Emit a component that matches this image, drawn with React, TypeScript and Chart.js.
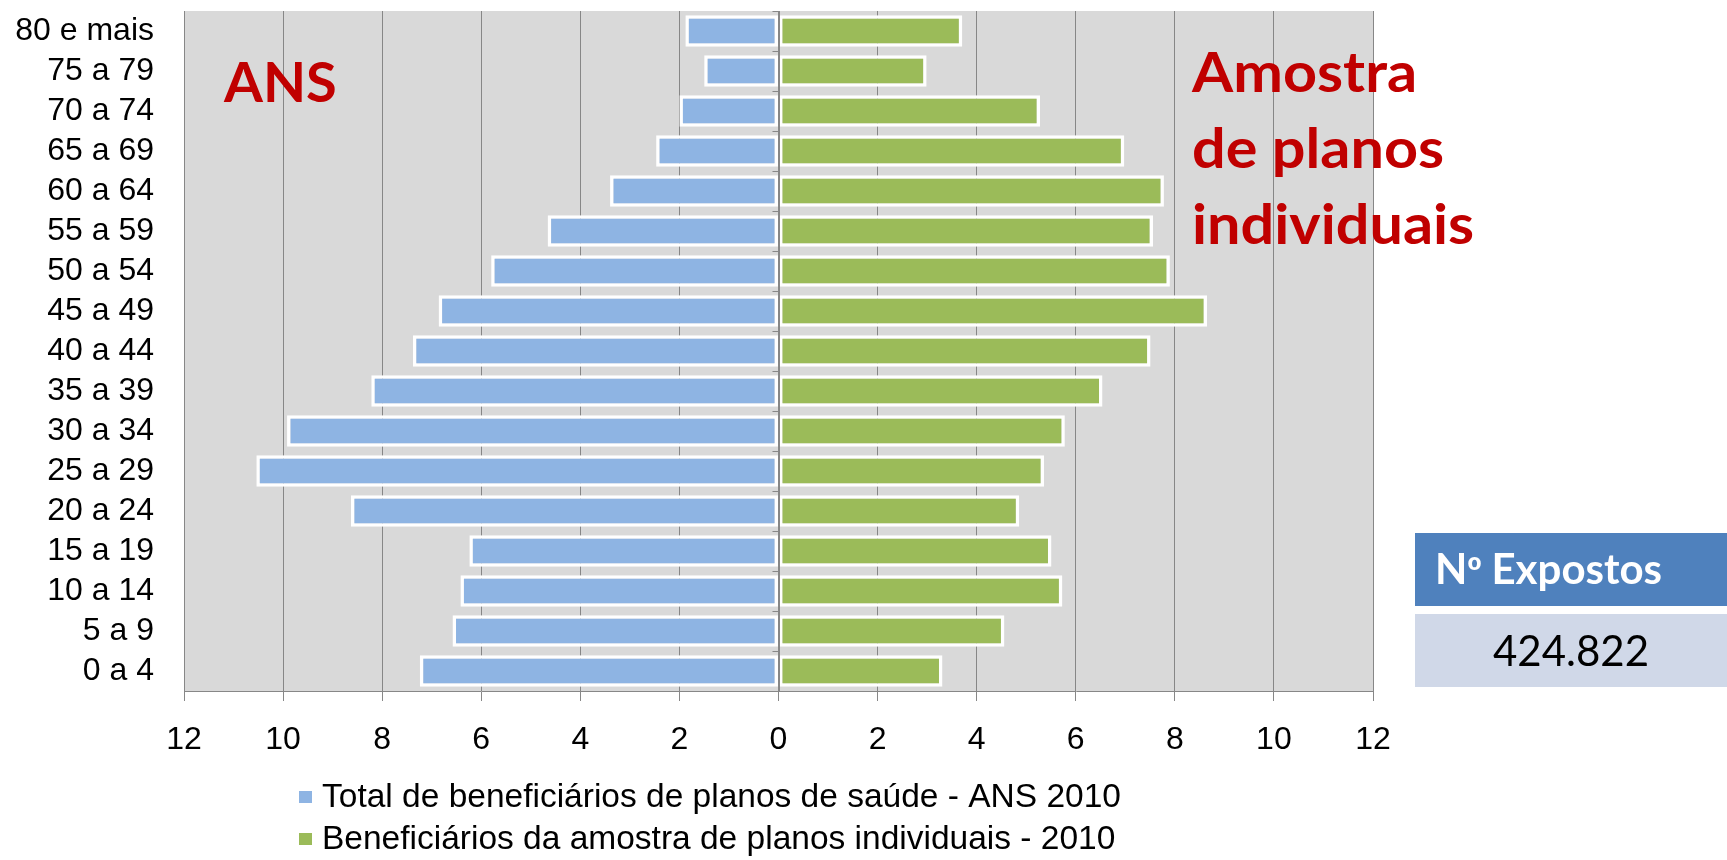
import React, { useEffect, useRef } from "react";
import { Chart, registerables } from "chart.js";

Chart.register(...registerables);

// ---- Data (percent of beneficiaries by age group), top row first ----
const ageGroups = [
  "80 e mais", "75 a 79", "70 a 74", "65 a 69", "60 a 64", "55 a 59",
  "50 a 54", "45 a 49", "40 a 44", "35 a 39", "30 a 34", "25 a 29",
  "20 a 24", "15 a 19", "10 a 14", "5 a 9", "0 a 4",
];
// ANS 2010 (drawn to the left, stored negative)
const ansShare = [
  -1.88, -1.5, -2.0, -2.47, -3.4, -4.66, -5.8, -6.86, -7.38, -8.22,
  -9.92, -10.54, -8.63, -6.24, -6.42, -6.58, -7.24,
];
// Sample of individual plans 2010 (drawn to the right)
const sampleShare = [
  3.71, 2.99, 5.28, 6.98, 7.78, 7.56, 7.9, 8.65, 7.51, 6.54,
  5.78, 5.36, 4.86, 5.51, 5.73, 4.56, 3.31,
];
const seriesLabels = [
  "Total de beneficiários de planos de saúde - ANS 2010",
  "Beneficiários da amostra de planos individuais - 2010",
];
const seriesColors = ["#8eb4e3", "#9bbb59"];
const axisMin = -12;
const axisMax = 12;
const axisStep = 2;
const exposedTitlePrefix = "N";
const exposedTitleOrdinal = "º";
const exposedTitleRest = " Expostos";
const exposedValue = "424.822";

const GRID = "#878787";
const FONT = "'Liberation Sans', Arial, sans-serif";

const plotBgPlugin = {
  id: "plotBg",
  beforeDraw(chart: any) {
    const { ctx, chartArea } = chart;
    ctx.save();
    ctx.fillStyle = "#d9d9d9";
    ctx.fillRect(chartArea.left, chartArea.top, chartArea.right - chartArea.left, chartArea.bottom - chartArea.top);
    ctx.restore();
  },
};

const zeroAxisPlugin = {
  id: "zeroAxis",
  afterDatasetsDraw(chart: any) {
    const { ctx, chartArea, scales } = chart;
    const x0 = Math.round(scales.x.getPixelForValue(0)) + 0.5;
    ctx.save();
    ctx.strokeStyle = GRID;
    ctx.lineWidth = 1;
    ctx.beginPath();
    ctx.moveTo(x0, chartArea.top);
    ctx.lineTo(x0, chartArea.bottom);
    const n = chart.data.labels.length;
    const h = (chartArea.bottom - chartArea.top) / n;
    for (let i = 0; i <= n; i++) {
      const y = Math.round(chartArea.top + i * h) + 0.5;
      ctx.moveTo(x0 - 7, y);
      ctx.lineTo(x0, y);
    }
    ctx.stroke();
    ctx.restore();
  },
};

const customLegendPlugin = {
  id: "customLegend",
  afterDraw(chart: any) {
    const { ctx } = chart;
    ctx.save();
    ctx.font = `33.5px ${FONT}`;
    ctx.textBaseline = "alphabetic";
    chart.data.datasets.forEach((ds: any, i: number) => {
      const baseline = 807 + i * 42;
      ctx.fillStyle = ds.backgroundColor;
      ctx.fillRect(299, baseline - 16, 13, 12);
      ctx.fillStyle = "#000000";
      ctx.fillText(ds.label, 322, baseline);
    });
    ctx.restore();
  },
};

export default function App() {
  const canvasRef = useRef<HTMLCanvasElement | null>(null);

  useEffect(() => {
    if (!canvasRef.current) return;
    const chart = new Chart(canvasRef.current, {
      type: "bar",
      data: {
        labels: ageGroups,
        datasets: [
          {
            label: seriesLabels[0],
            data: ansShare,
            backgroundColor: seriesColors[0],
            borderColor: "#ffffff",
            borderWidth: 3.5,
            borderSkipped: false,
            categoryPercentage: 0.88,
            barPercentage: 0.9,
          },
          {
            label: seriesLabels[1],
            data: sampleShare,
            backgroundColor: seriesColors[1],
            borderColor: "#ffffff",
            borderWidth: 3.5,
            borderSkipped: false,
            categoryPercentage: 0.88,
            barPercentage: 0.9,
          },
        ],
      },
      options: {
        indexAxis: "y",
        responsive: false,
        animation: false,
        devicePixelRatio: 1,
        layout: { padding: { left: 0, right: 354, top: 11, bottom: 0 } },
        plugins: { legend: { display: false }, tooltip: { enabled: false } },
        scales: {
          x: {
            stacked: true,
            min: axisMin,
            max: axisMax,
            ticks: {
              stepSize: axisStep,
              color: "#000000",
              font: { family: FONT, size: 32 },
              padding: 20,
              callback: (v: any) => String(Math.abs(Number(v))),
            },
            grid: { color: GRID, lineWidth: 1, drawTicks: true, tickLength: 10 },
            border: { display: true, color: GRID, width: 1 },
            afterFit: (s: any) => {
              s.height = 169;
            },
          },
          y: {
            stacked: true,
            ticks: {
              color: "#000000",
              font: { family: FONT, size: 32, lineHeight: 0.6 },
              padding: 0,
              autoSkip: false,
            },
            grid: {
              display: true,
              drawOnChartArea: false,
              drawTicks: true,
              tickLength: 30,
              color: "rgba(0,0,0,0)",
            },
            border: { display: true, color: GRID, width: 1 },
            afterFit: (s: any) => {
              s.width = 184;
            },
          },
        },
      },
      plugins: [plotBgPlugin, zeroAxisPlugin, customLegendPlugin],
    } as any);
    return () => chart.destroy();
  }, []);

  const red = "#c00000";
  const redText: React.CSSProperties = {
    position: "absolute",
    color: red,
    fontFamily: "Lato, 'Open Sans', sans-serif",
    fontWeight: 700,
    fontSize: 56,
    whiteSpace: "nowrap",
    transformOrigin: "0 0",
  };

  return (
    <div style={{ position: "absolute", left: 0, top: 0, width: 1727, height: 860, background: "#ffffff", overflow: "hidden" }}>
      <canvas ref={canvasRef} width={1727} height={860} style={{ position: "absolute", left: 0, top: 0, width: 1727, height: 860 }} />
      <div style={{ ...redText, left: 224, top: 53, lineHeight: "56px" }}>ANS</div>
      <div style={{ ...redText, left: 1192, top: 33, lineHeight: "76px", transform: "scaleX(1.06)" }}>
        Amostra
        <br />
        de planos
        <br />
        individuais
      </div>
      <div style={{ position: "absolute", left: 1415, top: 533, width: 312, height: 73, background: "#4f81bd" }} />
      <div
        style={{
          position: "absolute",
          left: 1435,
          top: 532,
          height: 73,
          lineHeight: "73px",
          color: "#ffffff",
          fontFamily: "Lato, 'Open Sans', sans-serif",
          fontWeight: 700,
          fontSize: 42,
          whiteSpace: "nowrap",
        }}
      >
        {exposedTitlePrefix}
        <span style={{ fontFamily: "'Liberation Sans', Arial, sans-serif", fontSize: 38 }}>{exposedTitleOrdinal}</span>
        {exposedTitleRest}
      </div>
      <div
        style={{
          position: "absolute",
          left: 1415,
          top: 614,
          width: 312,
          height: 73,
          lineHeight: "73px",
          background: "#d0d8e8",
          color: "#000000",
          textAlign: "center",
          fontFamily: "Lato, 'Open Sans', sans-serif",
          fontWeight: 400,
          fontSize: 42,
          whiteSpace: "nowrap",
        }}
      >
        {exposedValue}
      </div>
    </div>
  );
}
